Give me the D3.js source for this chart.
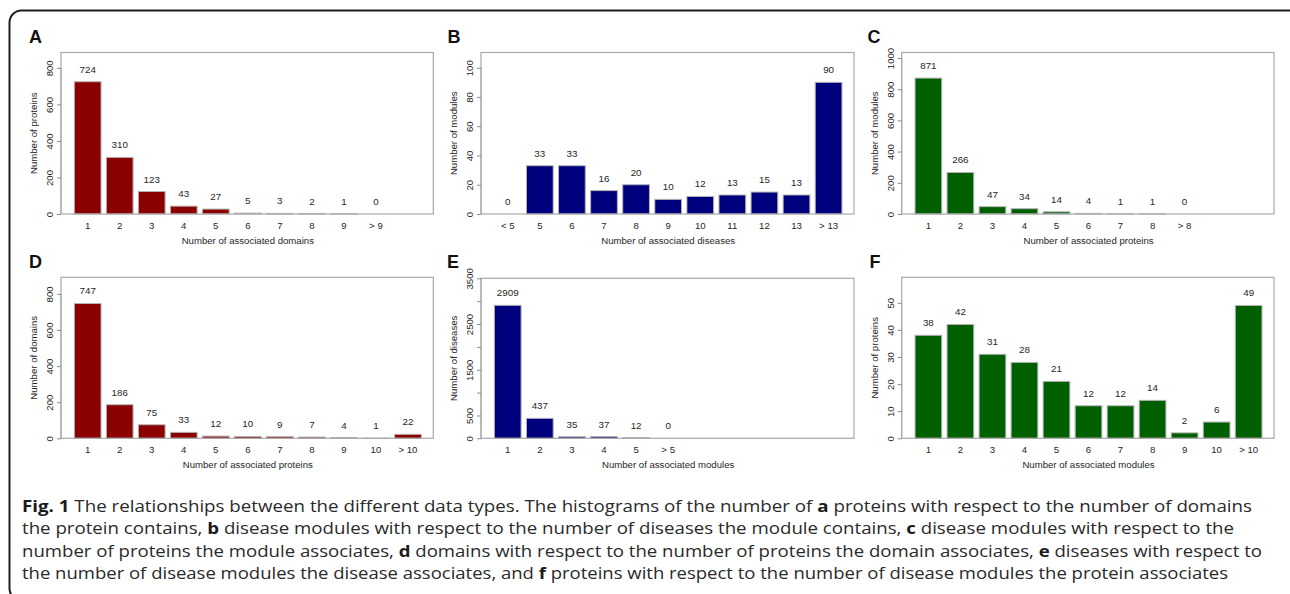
<!DOCTYPE html>
<html>
<head>
<meta charset="utf-8">
<script src="https://cdn.jsdelivr.net/npm/d3@7"></script>
<style>
  html, body { margin: 0; padding: 0; background: #fff; }
  svg { display: block; }
  .r-text { font-family: "Liberation Sans", Arial, sans-serif; fill: #262626; }
  .caption { font-family: "Open Sans", "Noto Sans", sans-serif; font-size: 16.5px; fill: #2a2a2a; }
</style>
</head>
<body>
<svg id="fig" width="1290" height="594"></svg>
<script>
// Panel A: proteins vs number of domains
const catsA = ['1', '2', '3', '4', '5', '6', '7', '8', '9', '> 9'];
const valsA = [724, 310, 123, 43, 27, 5, 3, 2, 1, 0];
const ticksA = [0, 200, 400, 600, 800];

// Panel B: modules vs number of diseases
const catsB = ['< 5', '5', '6', '7', '8', '9', '10', '11', '12', '13', '> 13'];
const valsB = [0, 33, 33, 16, 20, 10, 12, 13, 15, 13, 90];
const ticksB = [0, 20, 40, 60, 80, 100];

// Panel C: modules vs number of proteins
const catsC = ['1', '2', '3', '4', '5', '6', '7', '8', '> 8'];
const valsC = [871, 266, 47, 34, 14, 4, 1, 1, 0];
const ticksC = [0, 200, 400, 600, 800, 1000];

// Panel D: domains vs number of proteins
const catsD = ['1', '2', '3', '4', '5', '6', '7', '8', '9', '10', '> 10'];
const valsD = [747, 186, 75, 33, 12, 10, 9, 7, 4, 1, 22];
const ticksD = [0, 200, 400, 600, 800];

// Panel E: diseases vs number of modules
const catsE = ['1', '2', '3', '4', '5', '> 5'];
const valsE = [2909, 437, 35, 37, 12, 0];
const ticksE = [0, 500, 1000, 1500, 2000, 2500, 3000, 3500];
const tickLabelsE = [0, 500, 1500, 2500, 3500];

// Panel F: proteins vs number of modules
const catsF = ['1', '2', '3', '4', '5', '6', '7', '8', '9', '10', '> 10'];
const valsF = [38, 42, 31, 28, 21, 12, 12, 14, 2, 6, 49];
const ticksF = [0, 10, 20, 30, 40, 50];

const captionLines = [
  [['b', 'Fig. 1'], ['n', ' The relationships between the different data types. The histograms of the number of '], ['b', 'a'], ['n', ' proteins with respect to the number of domains']],
  [['n', 'the protein contains, '], ['b', 'b'], ['n', ' disease modules with respect to the number of diseases the module contains, '], ['b', 'c'], ['n', ' disease modules with respect to the']],
  [['n', 'number of proteins the module associates, '], ['b', 'd'], ['n', ' domains with respect to the number of proteins the domain associates, '], ['b', 'e'], ['n', ' diseases with respect to']],
  [['n', 'the number of disease modules the disease associates, and '], ['b', 'f'], ['n', ' proteins with respect to the number of disease modules the protein associates']]
];

const panels = [
  { letter: 'A', cats: catsA, vals: valsA, ticks: ticksA, labels: ticksA, ymax: 884, color: '#8b0000', ytitle: 'Number of proteins', xtitle: 'Number of associated domains', x0: 61, x1: 433.3, y0: 52.5, y1: 214, lx: 29, ly: 43 },
  { letter: 'B', cats: catsB, vals: valsB, ticks: ticksB, labels: ticksB, ymax: 110.4, color: '#00007f', ytitle: 'Number of modules', xtitle: 'Number of associated diseases', x0: 481, x1: 854, y0: 52.5, y1: 214, lx: 447.5, ly: 43 },
  { letter: 'C', cats: catsC, vals: valsC, ticks: ticksC, labels: ticksC, ymax: 1035, color: '#006000', ytitle: 'Number of modules', xtitle: 'Number of associated proteins', x0: 901.7, x1: 1274, y0: 52.5, y1: 214, lx: 867.5, ly: 43 },
  { letter: 'D', cats: catsD, vals: valsD, ticks: ticksD, labels: ticksD, ymax: 892, color: '#8b0000', ytitle: 'Number of domains', xtitle: 'Number of associated proteins', x0: 61, x1: 433.3, y0: 277.3, y1: 438.3, lx: 29, ly: 268 },
  { letter: 'E', cats: catsE, vals: valsE, ticks: ticksE, labels: tickLabelsE, ymax: 3500, color: '#00007f', ytitle: 'Number of diseases', xtitle: 'Number of associated modules', x0: 481, x1: 854, y0: 278.3, y1: 438.3, lx: 447, ly: 268 },
  { letter: 'F', cats: catsF, vals: valsF, ticks: ticksF, labels: ticksF, ymax: 59.4, color: '#006000', ytitle: 'Number of proteins', xtitle: 'Number of associated modules', x0: 901.7, x1: 1274, y0: 277.3, y1: 438.3, lx: 869.5, ly: 268 }
];

const svg = d3.select('#fig');

// outer rounded frame
svg.append('rect')
  .attr('x', 9.5).attr('y', 10.5)
  .attr('width', 1292).attr('height', 590)
  .attr('rx', 12)
  .attr('fill', 'none')
  .attr('stroke', '#1e1e1e')
  .attr('stroke-width', 2);

panels.forEach(drawPanel);
drawCaption();

function drawPanel(p) {
  const g = svg.append('g');

  // R barplot layout: bar width 1, space 0.2
  const x = d3.scaleLinear().domain([-0.3, 13.65]).range([p.x0, p.x1]);
  const y = d3.scaleLinear().domain([0, p.ymax]).range([p.y1, p.y0]);

  g.selectAll('rect.bar')
    .data(p.vals)
    .join('rect')
    .attr('class', 'bar')
    .attr('x', (d, i) => x(0.2 + 1.2 * i))
    .attr('width', x(1) - x(0))
    .attr('y', d => y(d))
    .attr('height', d => Math.max(0, y(0) - y(d)))
    .attr('fill', p.color)
    .attr('stroke', '#b4b4b4')
    .attr('stroke-width', 1);

  // value labels above bars
  g.selectAll('text.val')
    .data(p.vals)
    .join('text')
    .attr('class', 'val r-text')
    .attr('x', (d, i) => x(0.7 + 1.2 * i))
    .attr('y', d => y(d) - 9)
    .attr('text-anchor', 'middle')
    .attr('font-size', '9.8px')
    .text(d => d);

  // category labels
  g.selectAll('text.cat')
    .data(p.cats)
    .join('text')
    .attr('class', 'cat r-text')
    .attr('x', (d, i) => x(0.7 + 1.2 * i))
    .attr('y', p.y1 + 15)
    .attr('text-anchor', 'middle')
    .attr('font-size', '9.6px')
    .text(d => d);

  // plot box
  g.append('rect')
    .attr('x', p.x0).attr('y', p.y0)
    .attr('width', p.x1 - p.x0).attr('height', p.y1 - p.y0)
    .attr('fill', 'none')
    .attr('stroke', '#a8a8a8')
    .attr('stroke-width', 1.2);

  // y axis (R style: rotated labels)
  const axis = d3.axisLeft(y)
    .tickValues(p.ticks)
    .tickSize(4)
    .tickPadding(5)
    .tickFormat(d => p.labels.includes(d) ? d : '');
  const ag = g.append('g')
    .attr('transform', `translate(${p.x0},0)`)
    .call(axis);
  ag.select('.domain')
    .attr('d', `M0,${y(p.ticks[0])}V${y(p.ticks[p.ticks.length - 1])}`)
    .attr('stroke', '#a8a8a8');
  ag.selectAll('.tick line').attr('stroke', '#8c8c8c');
  ag.selectAll('.tick text')
    .attr('class', 'r-text')
    .attr('font-size', '9.6px')
    .attr('x', null).attr('dy', null)
    .attr('text-anchor', 'middle')
    .attr('transform', 'translate(-8,0) rotate(-90)');

  // axis titles
  g.append('text')
    .attr('class', 'r-text')
    .attr('font-size', '9.6px')
    .attr('text-anchor', 'middle')
    .attr('transform', `translate(${p.x0 - 24},${(p.y0 + p.y1) / 2}) rotate(-90)`)
    .text(p.ytitle);

  g.append('text')
    .attr('class', 'r-text')
    .attr('font-size', '9.6px')
    .attr('text-anchor', 'middle')
    .attr('x', (x(0.2) + x(1.2 * 11)) / 2)
    .attr('y', p.y1 + 30)
    .text(p.xtitle);

  // panel letter
  g.append('text')
    .attr('x', p.lx).attr('y', p.ly)
    .attr('font-family', '"Liberation Sans", Arial, sans-serif')
    .attr('font-weight', 'bold')
    .attr('font-size', '18px')
    .attr('fill', '#111')
    .text(p.letter);
}

function drawCaption() {
  const lineEnds = [1252, 1234, 1262, 1228];
  const left = 22;
  captionLines.forEach((parts, li) => {
    const t = svg.append('text')
      .attr('class', 'caption')
      .attr('x', left)
      .attr('y', 512 + li * 22.3)
      .attr('textLength', lineEnds[li] - left)
      .attr('lengthAdjust', 'spacingAndGlyphs');
    parts.forEach(([kind, s]) => {
      t.append('tspan')
        .attr('font-weight', kind === 'b' ? 'bold' : null)
        .attr('fill', kind === 'b' ? '#1a1a1a' : null)
        .text(s);
    });
  });
}
</script>
</body>
</html>
